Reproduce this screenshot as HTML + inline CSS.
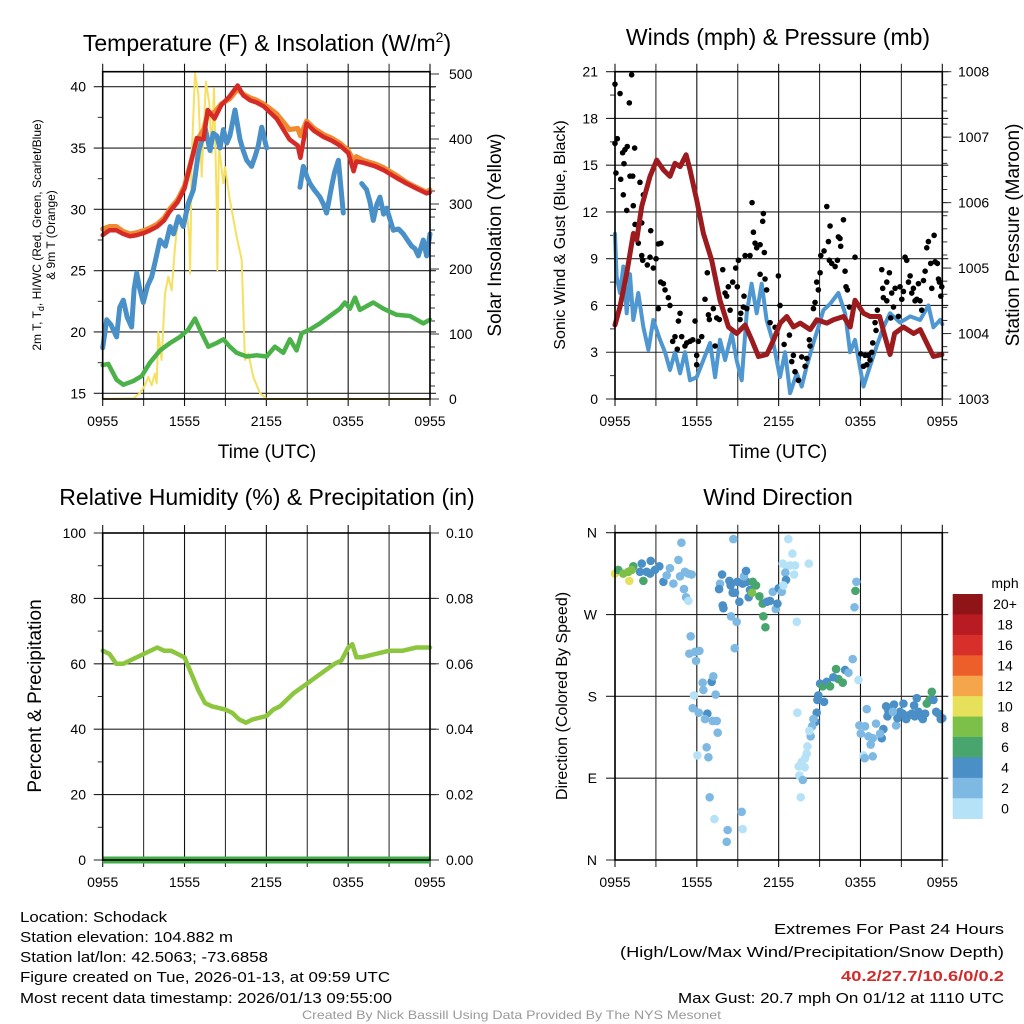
<!DOCTYPE html>
<html><head><meta charset="utf-8"><style>
html,body{margin:0;padding:0;background:#fff;}
svg{display:block;font-family:"Liberation Sans",Arial,sans-serif;}
</style></head><body>
<svg id="chart" xmlns="http://www.w3.org/2000/svg" width="1024" height="1024" viewBox="0 0 1024 1024">
<rect x="0" y="0" width="1024" height="1024" fill="#fff"/>
<g id="content"></g>
<!-- Titles -->
<text x="267" y="51" font-size="23" text-anchor="middle">Temperature (F) &amp; Insolation (W/m<tspan dy="-9" font-size="14">2</tspan><tspan dy="9">)</tspan></text>
<text x="778" y="45" font-size="23" text-anchor="middle">Winds (mph) &amp; Pressure (mb)</text>
<text x="267" y="505" font-size="23" text-anchor="middle">Relative Humidity (%) &amp; Precipitation (in)</text>
<text x="778" y="505" font-size="23" text-anchor="middle">Wind Direction</text>
<!-- axis titles -->
<text x="267" y="458" font-size="19" text-anchor="middle">Time (UTC)</text>
<text x="778" y="458" font-size="19" text-anchor="middle">Time (UTC)</text>
<g font-size="12" text-anchor="middle">
<text transform="translate(41,235) rotate(-90)">2m T, T<tspan font-size="9" dy="3">d</tspan><tspan dy="-3">, HI/WC (Red, Green, Scarlet/Blue)</tspan></text>
<text transform="translate(55,235) rotate(-90)">&amp; 9m T (Orange)</text>
</g>
<text transform="translate(501,235) rotate(-90)" font-size="19" text-anchor="middle">Solar Insolation (Yellow)</text>
<text transform="translate(565,235) rotate(-90)" font-size="16" text-anchor="middle">Sonic Wind &amp; Gust (Blue, Black)</text>
<text transform="translate(1019,235) rotate(-90)" font-size="19" text-anchor="middle">Station Pressure (Maroon)</text>
<text transform="translate(41,696) rotate(-90)" font-size="19" text-anchor="middle">Percent &amp; Precipitation</text>
<text transform="translate(567,696) rotate(-90)" font-size="16" text-anchor="middle">Direction (Colored By Speed)</text>
<!-- footer text -->
<g font-size="15">
<text x="20" y="922" textLength="147" lengthAdjust="spacingAndGlyphs">Location: Schodack</text>
<text x="20" y="942" textLength="213" lengthAdjust="spacingAndGlyphs">Station elevation: 104.882 m</text>
<text x="20" y="962" textLength="248" lengthAdjust="spacingAndGlyphs">Station lat/lon: 42.5063; -73.6858</text>
<text x="20" y="982" textLength="370" lengthAdjust="spacingAndGlyphs">Figure created on Tue, 2026-01-13, at 09:59 UTC</text>
<text x="20" y="1003" textLength="372" lengthAdjust="spacingAndGlyphs">Most recent data timestamp: 2026/01/13 09:55:00</text>
</g>
<g font-size="15">
<text x="774" y="934" textLength="230" lengthAdjust="spacingAndGlyphs">Extremes For Past 24 Hours</text>
<text x="620" y="957" textLength="384" lengthAdjust="spacingAndGlyphs">(High/Low/Max Wind/Precipitation/Snow Depth)</text>
<text x="841" y="981" textLength="163" lengthAdjust="spacingAndGlyphs" fill="#d42a2a" font-weight="bold">40.2/27.7/10.6/0/0.2</text>
<text x="678" y="1003" textLength="326" lengthAdjust="spacingAndGlyphs">Max Gust: 20.7 mph On 01/12 at 1110 UTC</text>
</g>
<text x="302" y="1019" font-size="12" fill="#999" textLength="419" lengthAdjust="spacingAndGlyphs">Created By Nick Bassill Using Data Provided By The NYS Mesonet</text>
</svg>
<script>
// ---------- DATA ----------
const timeTickLabels = ["0955","1555","2155","0355","0955"];
// Panel 1: temperature (hours since 0955 UTC)
const redTimes = [0,0.5,1.0,1.5,2.0,2.5,3.1,3.5,4.0,4.5,4.9,5.5,6.0,6.4,6.9,7.4,7.7,8.2,8.7,9.3,9.9,10.3,10.8,11.3,11.8,12.75,13.7,14.3,14.5,14.95,15.5,16.2,16.8,17.4,18.0,18.4,18.6,19.1,20.0,20.6,21.5,22.3,23.0,23.75,24];
const redTemp = [27.9,28.3,28.3,28.0,27.8,27.9,28.1,28.3,28.6,29.1,29.8,30.6,31.7,33.5,35.8,35.7,38.1,37.4,38.5,39.2,40.1,39.3,38.9,38.7,38.4,37.4,35.7,35.2,34.2,37.0,36.4,35.9,35.6,35.2,34.6,33.1,33.9,33.8,33.5,33.2,32.6,32.1,31.7,31.3,31.4];
const orangeTemp = [28.4,28.6,28.6,28.2,28.0,28.1,28.3,28.5,28.8,29.3,30.0,30.8,31.9,33.6,35.6,36.5,37.8,37.9,38.6,39.0,39.8,39.4,39.1,38.9,38.6,37.8,36.5,36.6,36.0,37.2,36.6,36.1,35.8,35.4,34.8,34.0,34.3,34.0,33.7,33.4,32.8,32.2,31.8,31.4,31.6];
const blueTimes = [0,0.29,0.6,1.02,1.25,1.51,1.8,2.12,2.3,2.49,2.7,2.98,3.3,3.59,3.9,4.2,4.6,4.94,5.2,5.55,5.91,6.28,6.65,7.01,7.3,7.5,7.87,8.1,8.36,8.6,8.85,9.1,9.33,9.7,10.07,10.3,10.56,10.92,11.2,11.41,11.66,12.02,12.1,14.47,14.71,15.0,15.2,15.5,15.93,16.2,16.42,16.79,17.0,17.28,17.64,17.7,18.99,19.35,19.6,19.84,20.1,20.33,20.6,20.82,21.31,21.7,22.04,22.4,22.65,22.9,23.14,23.51,23.75,24.0];
const blueTemp = [18.7,21.0,20.6,19.6,22.0,22.6,21.2,20.4,23.5,24.8,23.6,22.4,23.8,24.5,26.0,27.5,27.0,28.6,28.0,29.4,28.6,30.5,31.6,34.6,35.8,36.7,34.8,36.2,36.0,35.0,36.5,35.4,36.0,38.1,35.7,34.8,34.0,33.5,34.4,35.2,36.7,35.0,null,31.8,33.5,32.6,32.1,31.6,31.0,30.4,29.7,31.9,33.0,34.0,29.7,null,32.1,31.6,30.6,29.1,30.4,31.0,29.6,30.1,28.3,28.4,28.0,27.4,27.0,26.8,26.2,27.5,26.2,28.0];
const greenTimes = [0,0.41,1.02,1.51,2.25,2.86,3.47,4.2,4.94,5.67,6.28,6.77,7.26,7.75,8.36,8.85,9.33,9.82,10.56,11.29,12.02,12.63,13.24,13.73,14.22,14.59,15.2,15.93,16.67,17.4,17.76,18.13,18.5,18.86,19.84,20.58,21.55,22.53,23.51,24];
const greenTemp = [17.3,17.4,16.1,15.7,16.0,16.4,17.5,18.5,19.1,19.6,20.2,21.1,19.9,18.8,19.1,19.4,18.8,18.3,18.0,18.1,18.0,18.8,18.3,19.4,18.5,19.9,20.2,20.7,21.3,21.9,22.4,21.9,22.8,21.8,22.4,21.9,21.4,21.3,20.7,21.0];
const solarTimes = [0,2.25,2.73,3.1,3.35,3.59,3.83,3.96,4.08,4.32,4.57,4.81,5.06,5.3,5.55,5.91,6.16,6.35,6.4,6.45,6.52,6.77,7.01,7.26,7.57,7.82,7.99,8.16,8.36,8.41,8.46,8.53,8.84,8.97,9.33,9.82,10.19,10.43,10.68,11.04,11.53,12.02,24];
const solarValues = [0,1,9,21,34,21,39,24,103,60,162,188,167,234,280,265,290,250,193,250,368,501,470,342,488,455,378,478,300,198,300,388,332,357,306,250,214,60,70,34,9,0,0];
// Panel 2: winds and pressure
const windTimes = [0,0.12,0.37,0.61,0.86,1.1,1.34,1.71,2.08,2.45,2.81,3.3,3.67,4.03,4.4,4.77,5.13,5.5,5.99,6.48,6.97,7.34,7.7,8.07,8.56,8.92,9.29,9.66,10.02,10.39,10.76,11.12,11.61,12.1,12.47,12.84,13.33,13.69,14.06,14.55,14.91,15.28,15.77,16.38,16.87,17.24,17.6,18.22,18.7,19.19,19.68,20.17,20.9,21.64,22.37,22.98,23.35,23.84,24];
const windSpeed = [10.6,7.85,6.8,8.5,5.5,8.0,5.07,6.8,4.6,3.15,5.07,3.8,3.0,1.86,3.0,1.65,3.0,1.2,1.4,2.5,3.6,1.4,3.8,2.5,4.2,2.5,1.2,5.5,7.4,5.5,7.4,5.07,3.6,1.4,3.0,0.37,1.65,0.8,2.1,3.6,4.6,5.7,6.1,6.8,5.5,3.0,3.8,0.8,2.1,3.4,4.6,5.5,4.9,5.3,5.07,6.0,4.6,5.07,4.8];
const gustTimes = [0.0,0.37,1.22,1.05,0,0.17,0.07,0.42,0.56,0.73,0.9,1.44,0.66,1.1,1.3,1.83,0.61,0.86,1.34,2.08,1.47,1.96,1.71,2.62,1.96,2.03,2.37,2.81,2.57,3.01,3.18,3.37,3.18,3.35,3.55,3.67,3.91,4.03,4.23,4.4,4.65,4.77,4.89,4.57,5.26,5.13,5.5,5.7,5.99,5.87,6.11,5.99,6.36,6.6,6.77,6.92,7.21,7.34,7.46,7.65,6.85,7.9,8.07,8.19,8.31,8.44,8.63,8.85,8.97,9.05,9.22,9.41,9.66,9.46,9.17,9.54,9.9,10.05,10.15,10.27,10.39,10.64,10.83,10.88,10.95,10.64,11.0,11.12,11.37,11.74,11.86,11.98,12.1,12.4,12.54,12.79,12.96,13.08,13.45,13.2,13.69,13.94,14.06,14.25,14.3,14.55,14.67,14.79,14.91,15.04,15.09,15.33,15.53,15.77,15.65,15.72,16.14,15.89,16.31,16.38,16.5,16.55,16.75,16.87,16.94,17.04,17.19,17.6,18.02,18.22,18.34,18.58,18.7,18.46,18.83,18.9,19.14,19.07,19.24,19.56,19.63,19.93,20.12,19.68,19.93,20.29,20.22,20.42,20.54,20.78,20.9,21.03,21.15,21.27,21.39,21.52,21.64,21.76,21.88,22.0,22.13,22.37,22.49,22.25,22.62,22.74,22.86,22.98,23.15,23.23,23.4,23.47,23.64,23.72,23.79,23.89,23.96];
const gustSpeed = [20.2,19.6,20.8,19.0,16.4,16.7,14.5,14.1,15.8,16.0,16.2,16.1,15.1,14.3,14.3,13.9,13.1,12.1,12.4,13.1,11.2,11.3,10.0,10.8,9.2,8.9,8.6,8.4,9.1,9.0,9.95,10.0,5.8,7.5,7.4,7.0,6.5,6.0,3.7,4.0,5.0,5.5,4.0,3.2,3.6,3.4,3.7,3.8,2.8,5.0,3.7,2.2,4.0,6.4,8.1,5.1,5.8,3.4,5.2,5.1,5.4,8.3,6.8,6.6,7.2,5.7,7.5,8.4,7.2,8.9,5.5,5.9,5.8,6.6,5.1,9.2,9.2,12.6,10.7,10.0,9.7,9.9,11.4,11.9,9.4,8.0,7.7,7.0,4.9,4.6,4.2,7.9,6.0,3.5,5.2,4.1,2.4,2.8,1.2,1.75,2.7,2.1,2.6,3.8,3.4,5.8,6.2,7.5,7.0,8.1,9.2,9.5,12.35,11.1,10.1,8.9,8.5,8.7,8.9,10.4,10.3,9.8,11.5,8.2,7.2,7.0,5.9,9.1,2.9,2.1,2.8,2.8,2.5,2.2,3.0,3.6,4.4,4.9,5.7,8.3,7.1,7.5,8.1,6.5,6.3,6.8,5.2,5.9,7.1,5.3,7.2,6.4,6.9,9.1,8.9,7.5,7.9,6.8,7.1,6.3,6.4,6.3,5.7,7.4,7.6,8.2,9.7,10.1,8.7,7.1,10.5,8.8,8.7,7.7,7.5,6.6,7.2];
const pressTimes = [0,0.37,0.86,1.35,1.59,1.96,2.57,3.06,3.55,4.03,4.4,4.77,5.21,5.5,5.99,6.48,7.09,7.7,8.32,8.93,9.54,10.03,10.52,11.13,11.62,12.11,12.6,13.09,13.58,14.31,14.8,15.53,16.02,16.76,17.25,17.6,18.22,18.71,19.4,19.8,20.17,20.5,21.15,21.9,22.38,22.87,23.35,23.97];
const pressure = [1004.13,1004.41,1004.92,1005.53,1005.43,1005.94,1006.40,1006.65,1006.50,1006.40,1006.60,1006.55,1006.73,1006.50,1006.04,1005.53,1005.12,1004.51,1004.10,1004.00,1004.13,1003.90,1003.65,1003.68,1003.90,1004.16,1004.26,1004.10,1004.16,1004.06,1004.21,1004.16,1004.21,1004.26,1004.10,1004.51,1004.31,1004.26,1004.26,1003.95,1003.68,1004.00,1004.10,1004.00,1004.06,1003.85,1003.65,1003.68];
// Panel 3: relative humidity
const rhTimes = [0,0.5,1,1.5,2,3,4,4.5,5,5.5,6,6.5,7,7.5,8,9,9.5,10,10.5,11,12,12.5,13,14,15,16,17,17.5,18,18.3,18.6,19,20,21,22,23,24];
const rhValues = [64,63,60,60,61,63,65,64,64,63,62,57,52,48,47,46,45,43,42,43,44,46,47,51,54,57,60,61,65,66,62,62,63,64,64,65,65];
const precipValues = [0,0];
// Panel 4: wind direction
const dirTimes = [0.0,0.24,0.61,0.98,1.34,1.22,1.05,1.96,2.08,2.62,2.32,2.93,3.25,3.55,4.03,4.28,4.65,4.87,4.77,5.13,5.38,5.62,5.06,5.21,5.38,1.83,2.57,3.79,5.55,5.45,5.87,6.19,5.94,6.43,6.48,7.09,7.21,7.38,5.79,5.7,6.14,6.77,6.6,7.16,7.46,7.53,6.72,6.04,6.85,6.94,7.29,8.26,8.19,9.29,9.36,8.68,7.85,7.7,7.63,8.39,8.48,8.97,9.12,8.63,8.8,7.9,7.95,8.51,8.92,8.78,9.36,9.66,9.46,9.61,9.8,9.9,10.1,10.34,10.05,10.59,10.83,10.88,11.03,11.12,11.37,11.57,11.79,11.91,12.01,12.23,13.33,12.71,13.01,12.3,12.59,12.84,13.2,14.21,12.49,13.13,12.54,12.35,17.7,17.63,17.56,15.04,15.23,15.53,15.77,16.21,16.38,16.7,16.87,17.12,17.43,17.85,16.01,14.91,14.84,15.33,14.79,14.69,14.55,14.45,14.35,14.25,14.11,14.06,13.94,13.69,13.47,13.91,13.52,13.77,13.62,13.37,18.46,17.92,18.02,18.34,18.58,18.9,18.75,19.14,19.56,19.68,19.88,20.05,19.98,20.46,20.61,20.71,20.9,21.15,21.35,21.52,21.76,21.93,22.13,22.25,22.42,22.57,22.74,22.86,23.06,23.23,23.35,23.55,23.72,23.89,24.0,18.22,18.31,18.9,19.44,20.37,21.1,21.98];
const dirDegrees = [315,319,315,317,323,319,307,326,307,329,317,319,323,306,321,304,330,349,312,317,315,314,298,289,285,317,315,313,246,227,229,230,219,195,187,196,202,182,181,167,162,161,155,153,153,140,124,115,113,69,45,33,20,53,34,353,314,304,298,307,302,306,284,294,294,280,277,268,262,233,304,306,312,318,289,297,306,302,294,290,282,268,256,284,285,295,276,282,299,295,262,353,337,326,323,324,324,326,316,314,308,302,306,296,278,194,191,196,191,210,199,195,209,206,221,198,201,181,176,174,162,152,155,147,136,142,125,117,112,108,103,102,93,88,69,162,166,148,139,147,136,134,127,150,134,144,169,164,158,171,148,156,163,172,155,159,161,170,178,163,158,155,161,172,176,185,176,163,161,155,156,115,112,114,139,163,161,158];
const dirSpeeds = [11,7,9,9,7,9,11,5,7,5,5,5,5,5,3,3,3,3,3,3,3,3,3,3,1,5,5,3,3,3,3,3,3,3,3,5,3,3,1,3,3,5,3,3,3,3,3,1,3,3,1,3,3,3,1,3,5,3,5,5,5,5,5,5,5,5,5,3,3,3,5,5,3,5,5,5,7,7,9,7,7,7,7,5,5,3,3,5,5,3,1,1,1,1,1,1,1,1,3,1,5,1,3,7,3,5,7,5,7,7,7,7,5,3,3,1,5,5,5,5,5,5,3,3,3,1,1,1,1,1,1,1,1,3,1,1,3,3,3,3,3,3,3,3,5,5,5,5,5,5,3,5,5,5,5,5,5,5,5,5,5,5,5,7,7,7,5,5,5,5,5,1,3,3,3,3,5,5];
const speedColors = ["#b5e2f7","#7db9e3","#4a8fc6","#48a56e","#7cc04a","#e6e05a","#f5a54a","#ec5e2a","#d7302a","#b81c22","#8e1418"];
const speedLabels = ["0","2","4","6","8","10","12","14","16","18","20+"];
const tempTicks = [15,20,25,30,35,40];
const solarTicks = [0,100,200,300,400,500];
const windTicks = [0,3,6,9,12,15,18,21];
const pressTicks = [1003,1004,1005,1006,1007,1008];
const rhTicks = [0,20,40,60,80,100];
const precipTicks = ["0.00","0.02","0.04","0.06","0.08","0.10"];
const dirTicks = [0,90,180,270,360];
const dirTickLabels = ["N","E","S","W","N"];

// ---------- DRAWING ----------
const NS = "http://www.w3.org/2000/svg";
const root = document.getElementById("content");
function mk(tag, attrs, parent){ const e=document.createElementNS(NS,tag); for(const k in attrs) e.setAttribute(k,attrs[k]); (parent||root).appendChild(e); return e; }
function lin(d0,d1,r0,r1){ return v => r0 + (v-d0)/(d1-d0)*(r1-r0); }

const P = {
  p1:{x0:102.7,x1:430,y0:71.7,y1:399},
  p2:{x0:615,x1:942.3,y0:71.7,y1:399},
  p3:{x0:102.7,x1:430,y0:533,y1:860},
  p4:{x0:615,x1:942.3,y0:532.7,y1:860}
};
const x1s = lin(0,24,P.p1.x0,P.p1.x1), x2s = lin(0,24,P.p2.x0,P.p2.x1);
const yTemp = lin(15,40,393.3,86.7), ySolar = lin(0,500,399,74);
const yWind = lin(0,21,399,71.7), yPress = lin(1003,1008,399,71.7);
const yRH = lin(0,100,860,533), yPrec = lin(0,0.1,860,533);
const yDir = lin(0,360,860,532.7);

function panelFrame(p, name){
  const g = mk("g",{});
  
  
  return g;
}
function vgrid(p, g){
  for(let h=0; h<=24; h+=3){
    const x = lin(0,24,p.x0,p.x1)(h);
    const l = mk("line",{x1:x,x2:x,y1:p.y0-8,y2:p.y1+7,stroke:(h%6===0)?"#111":"#333","stroke-width":1.1},g);
    
    
  }
}
function hline(p,y,g,len){
  const l = mk("line",{x1:p.x0-(len||9),x2:p.x1+6,y1:y,y2:y,stroke:"#222","stroke-width":1.1},g);
  
  
}
function label(txt,x,y,anchor,g,size){
  const t = mk("text",{x:x,y:y,"font-size":size||14,"text-anchor":anchor},g);
  t.textContent = txt;
  
  
  return t;
}
function tick(x1,y1,x2,y2,g){ mk("line",{x1:x1,y1:y1,x2:x2,y2:y2,stroke:"#333","stroke-width":1},g); }
function border(p,g){
  const r = mk("rect",{x:p.x0,y:p.y0,width:p.x1-p.x0,height:p.y1-p.y0,fill:"none",stroke:"#000","stroke-width":1.6},g);
  
  
}
function xlabels(p,g){
  timeTickLabels.forEach((s,i)=>{ label(s, lin(0,24,p.x0,p.x1)(i*6), p.y1+27, "middle", g); });
}
function pathFrom(ts, vs, xs, ys){
  let d="", pen=false;
  for(let i=0;i<ts.length;i++){
    if(vs[i]===null||vs[i]===undefined){ pen=false; continue; }
    d += (pen?"L":"M") + xs(ts[i]).toFixed(1) + "," + ys(vs[i]).toFixed(1);
    pen=true;
  }
  return d;
}

// ---- Panel 1 ----
(function(){
  const p=P.p1, g=panelFrame(p,'temperature-panel');
  vgrid(p,g);
  tempTicks.forEach(v=>{ hline(p,yTemp(v),g); label(String(v),86,yTemp(v)+5,"end",g); });
  for(let v=17.5; v<41; v+=5) tick(p.x0-5,yTemp(v),p.x0,yTemp(v),g);
  solarTicks.forEach(v=>{ tick(p.x1,ySolar(v),p.x1+9,ySolar(v),g); label(String(v),449,ySolar(v)+5,"start",g); });
  for(let v=20; v<500; v+=20) if(v%100) tick(p.x1,ySolar(v),p.x1+5,ySolar(v),g);
  xlabels(p,g);
  const s1 = mk("path",{d:pathFrom(solarTimes,solarValues,x1s,ySolar),fill:"none",stroke:"#f5e060","stroke-width":2,"stroke-linejoin":"round"});
  
  
  const s2 = mk("path",{d:pathFrom(greenTimes,greenTemp,x1s,yTemp),fill:"none",stroke:"#4bb24a","stroke-width":4.5,"stroke-linejoin":"round","stroke-linecap":"round"});
  
  
  const s3 = mk("path",{d:pathFrom(blueTimes,blueTemp,x1s,yTemp),fill:"none",stroke:"#4a90c8","stroke-width":5,"stroke-linejoin":"round","stroke-linecap":"round"});
  
  
  const s4 = mk("path",{d:pathFrom(redTimes,orangeTemp,x1s,yTemp),fill:"none",stroke:"#f08a30","stroke-width":5,"stroke-linejoin":"round","stroke-linecap":"round"});
  
  
  const s5 = mk("path",{d:pathFrom(redTimes,redTemp,x1s,yTemp),fill:"none",stroke:"#d62a27","stroke-width":4.5,"stroke-linejoin":"round","stroke-linecap":"round"});
  
  
  border(p,g); root.appendChild(g.lastChild);
})();

// ---- Panel 2 ----
(function(){
  const p=P.p2, g=panelFrame(p,'winds-panel');
  vgrid(p,g);
  windTicks.forEach(v=>{ hline(p,yWind(v),g); label(String(v),598,yWind(v)+5,"end",g); });
  for(let v=1.5; v<21; v+=3) tick(p.x0-5,yWind(v),p.x0,yWind(v),g);
  pressTicks.forEach(v=>{ tick(p.x1,yPress(v),p.x1+9,yPress(v),g); label(String(v),958,yPress(v)+5,"start",g); });
  for(let v=1003.2; v<1008; v+=0.2) tick(p.x1,yPress(v),p.x1+5,yPress(v),g);
  xlabels(p,g);
  const w = mk("path",{d:pathFrom(windTimes,windSpeed,x2s,yWind),fill:"none",stroke:"#4f97d0","stroke-width":4,"stroke-linejoin":"round","stroke-linecap":"round"});
  
  
  const gg = mk("g",{});
  
  
  for(let i=0;i<gustTimes.length;i++){
    const c = mk("circle",{cx:x2s(gustTimes[i]),cy:yWind(gustSpeed[i]),r:2.8,fill:"#000"},gg);
    
    
  }
  const pr = mk("path",{d:pathFrom(pressTimes,pressure,x2s,yPress),fill:"none",stroke:"#9b1b1e","stroke-width":5,"stroke-linejoin":"round","stroke-linecap":"round"});
  
  
  border(p,g); root.appendChild(g.lastChild);
})();

// ---- Panel 3 ----
(function(){
  const p=P.p3, g=panelFrame(p,'humidity-panel');
  vgrid(p,g);
  rhTicks.forEach((v,i)=>{ hline(p,yRH(v),g); label(String(v),86,yRH(v)+5,"end",g); label(precipTicks[i],446,yRH(v)+5,"start",g); tick(p.x1,yRH(v),p.x1+9,yRH(v),g); });
  for(let v=10; v<100; v+=20) tick(p.x0-5,yRH(v),p.x0,yRH(v),g);
  xlabels(p,g);
  const rh = mk("path",{d:pathFrom(rhTimes,rhValues,x1s,yRH),fill:"none",stroke:"#8cc63f","stroke-width":4.5,"stroke-linejoin":"round","stroke-linecap":"round"});
  
  
  const pc = mk("path",{d:pathFrom([0,24],precipValues,x1s,yPrec),fill:"none",stroke:"#3fae49","stroke-width":7});
  
  
  border(p,g); root.appendChild(g.lastChild);
})();

// ---- Panel 4 ----
(function(){
  const p=P.p4, g=panelFrame(p,'wind-direction-panel');
  vgrid(p,g);
  dirTicks.forEach((v,i)=>{ hline(p,yDir(v),g); label(dirTickLabels[i],597,yDir(v)+5,"end",g); });
  xlabels(p,g);
  const dg = mk("g",{});
  
  
  for(let i=0;i<dirTimes.length;i++){
    const bin = Math.min(10, Math.floor(dirSpeeds[i]/2));
    const c = mk("circle",{cx:x2s(dirTimes[i]),cy:yDir(dirDegrees[i]),r:4.3,fill:speedColors[bin]},dg);
    
    
  }
  border(p,g); root.appendChild(g.lastChild);
  // colorbar
  const cb = mk("g",{});
  
  
  const top=594, bh=(818.7-594)/11;
  for(let i=0;i<11;i++){
    const k = 10-i;
    const r = mk("rect",{x:952.7,y:top+i*bh,width:30,height:bh+0.3,fill:speedColors[k]},cb);
    
    
    const t = label(speedLabels[k],1005,top+i*bh+bh/2+5,"middle",cb);
  }
  const u = label("mph",1005,588,"middle",cb);
})();
</script>
</body></html>
